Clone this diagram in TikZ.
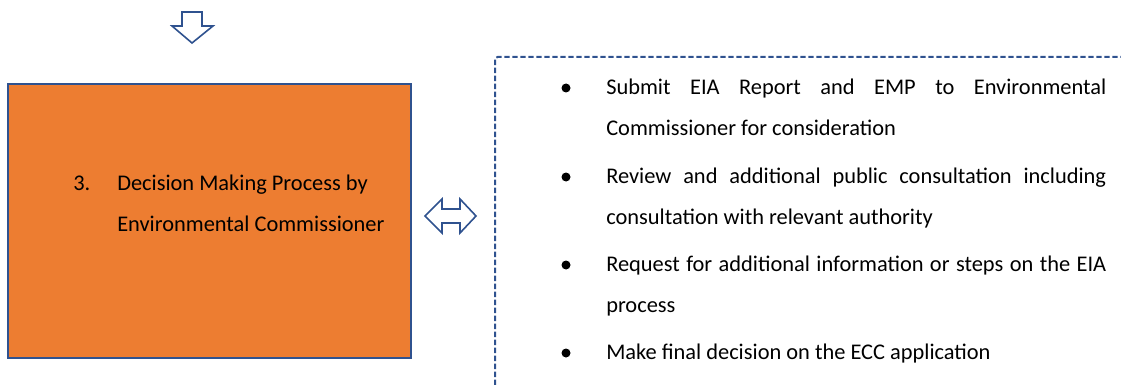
\documentclass[tikz,border=0pt]{standalone}
\usepackage{fontspec}
\setmainfont{Carlito}
\definecolor{shapeblue}{HTML}{2F528F}
\definecolor{boxorange}{HTML}{ED7D31}
\newcommand{\itemblock}[2]{\parbox[t]{#1}{\fontsize{16.8}{30.75}\selectfont\hyphenpenalty=10000 #2}}

\begin{document}
\begin{tikzpicture}[x=0.75pt,y=-0.75pt,
  blockarrow/.style={draw=shapeblue,fill=white,line width=1.2pt,line join=miter},
  bodytext/.style={anchor=base west,inner sep=0pt,font=\fontsize{16.8}{30.75}\selectfont}]
  \useasboundingbox (0,0) rectangle (1121,385);
  % arrow coming down from the step above
  \draw[blockarrow] (182,12) -- (202,12) -- (202,26) -- (213,26) -- (192,43) -- (172,26) -- (182,26) -- cycle;
  % step 3
  \node (decision) [draw=shapeblue,line width=1.5pt,fill=boxorange,inner sep=0pt,
    minimum width=302.25pt,minimum height=205.5pt,anchor=north west] at (7,83) {};
  \node (num) [bodytext] at (73,190) {3.};
  \node (title) [bodytext] at (117,190) {\itemblock{230pt}{\raggedright Decision Making Process by\\Environmental Commissioner}};
  % two way arrow to the list of tasks
  \draw[blockarrow] (425,216) -- (442,199) -- (442,209) -- (460,209) -- (460,199) -- (476,216)
    -- (460,233) -- (460,223) -- (442,223) -- (442,233) -- cycle;
  \draw[shapeblue,line width=1.5pt,dash pattern=on 4pt off 2pt,rounded corners=2pt] (495,385) -- (495,57) -- (1121,57);
  \foreach \y in {88,177,265,353}{% one dot per task
    \node (dot\y) [circle,fill=black,inner sep=0pt,minimum size=6.75pt] at (566,\y) {};}
  \node (task1) [bodytext] at (606,94) {\itemblock{375pt}{Submit EIA Report and EMP to Environmental\linebreak Commissioner for consideration}};
  \node (task2) [bodytext] at (606,183) {\itemblock{375pt}{Review and additional public consultation including\linebreak consultation with relevant authority}};
  \node (task3) [bodytext] at (606,271) {\itemblock{375pt}{Request for additional information or steps on the EIA\linebreak process}};
  \node (task4) [bodytext] at (606,359) {\itemblock{375pt}{Make final decision on the ECC application}};
\end{tikzpicture}
\end{document}
